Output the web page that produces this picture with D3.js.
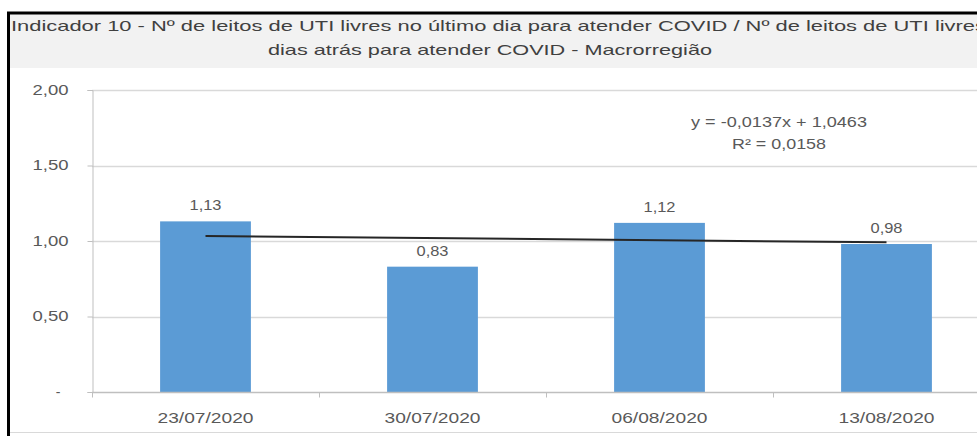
<!DOCTYPE html>
<html lang="pt">
<head>
<meta charset="UTF-8">
<title>Indicador 10</title>
<script src="https://d3js.org/d3.v7.min.js"></script>
<style>
  body { margin: 0; background: #fff; }
  text { font-family: "Liberation Sans", "DejaVu Sans", sans-serif; }
</style>
</head>
<body>
<div id="chart"></div>
<script>

// data
var dates = ["23/07/2020", "30/07/2020", "06/08/2020", "13/08/2020"];
var values = [1.13, 0.83, 1.12, 0.98];
var yTicks = [0, 0.5, 1.0, 1.5, 2.0];
var yTickLabels = ["-", "0,50", "1,00", "1,50", "2,00"];
var trendSlope = -0.0137;
var trendIntercept = 1.0463;
var trendLabels = ["y = -0,0137x + 1,0463", "R² = 0,0158"];
var titleLines = [
  "Indicador 10 - Nº de leitos de UTI livres no último dia para atender COVID / Nº de leitos de UTI livres",
  "dias atrás para atender COVID - Macrorregião"
];

var W = 977, H = 436;
var margin = {top: 90, left: 92, bottom: 44};

var svg = d3.select("#chart")
  .append("svg")
    .attr("width", W)
    .attr("height", H);

// frame: black border top/left, grey title band
svg.append("rect")
  .attr("x", 10).attr("y", 14)
  .attr("width", W - 10).attr("height", 54)
  .style("fill", "#f2f2f2");
svg.append("line")
  .attr("x1", 7).attr("x2", W).attr("y1", 13).attr("y2", 13)
  .style("stroke", "#000").style("stroke-width", 3);
svg.append("line")
  .attr("x1", 8.5).attr("x2", 8.5).attr("y1", 12).attr("y2", H)
  .style("stroke", "#000").style("stroke-width", 3);
svg.append("line")
  .attr("x1", 10).attr("x2", W).attr("y1", 432.5).attr("y2", 432.5)
  .style("stroke", "#d9d9d9").style("stroke-width", 1);

// title
svg.append("text")
  .attr("x", 11).attr("y", 31)
  .attr("textLength", 975)
  .attr("lengthAdjust", "spacingAndGlyphs")
  .style("font-size", "15px")
  .style("fill", "#404040")
  .text(titleLines[0]);
svg.append("text")
  .attr("x", 268).attr("y", 55)
  .attr("textLength", 444)
  .attr("lengthAdjust", "spacingAndGlyphs")
  .style("font-size", "15px")
  .style("fill", "#404040")
  .text(titleLines[1]);

// scales
var x = d3.scaleBand()
  .domain(dates)
  .range([margin.left, 1000])
  .paddingInner(0.6)
  .paddingOuter(0.3);

var y = d3.scaleLinear()
  .domain([0, 2])
  .range([392, margin.top]);

// gridlines
svg.append("g")
  .selectAll("line")
  .data(yTicks.filter(function(d) { return d > 0; }))
  .enter()
  .append("line")
    .attr("x1", margin.left).attr("x2", W)
    .attr("y1", function(d) { return Math.round(y(d)) + 0.5; })
    .attr("y2", function(d) { return Math.round(y(d)) + 0.5; })
    .style("stroke", "#d9d9d9")
    .style("stroke-width", 1.5);

// y axis
var yAxis = svg.append("g")
  .attr("transform", "translate(" + (margin.left + 0.5) + ",0)")
  .call(d3.axisLeft(y)
    .tickValues(yTicks)
    .tickSize(5)
    .tickPadding(19)
    .tickFormat(function(d, i) { return yTickLabels[i]; }));
yAxis.select(".domain").style("stroke", "#bfbfbf");
yAxis.selectAll(".tick line").style("stroke", "#bfbfbf");
yAxis.selectAll(".tick text")
  .style("font-size", "14px")
  .style("fill", "#595959")
  .style("font-family", "Liberation Sans, sans-serif")
  .filter(function(d) { return d > 0; })
  .attr("textLength", 36)
  .attr("lengthAdjust", "spacingAndGlyphs");
yAxis.selectAll(".tick text")
  .filter(function(d) { return d === 0; })
  .attr("x", -32);

// bars
svg.append("g")
  .selectAll("rect")
  .data(values)
  .enter()
  .append("rect")
    .attr("x", function(d, i) { return x(dates[i]); })
    .attr("y", function(d) { return y(d); })
    .attr("width", x.bandwidth())
    .attr("height", function(d) { return y(0) - y(d); })
    .style("fill", "#5b9bd5");

// x axis
var step = x.step();
var xAxisG = svg.append("g")
  .attr("transform", "translate(0," + (y(0) + 0.5) + ")");
xAxisG.append("line")
  .attr("x1", margin.left).attr("x2", W)
  .style("stroke", "#bfbfbf").style("stroke-width", 1.5);
xAxisG.selectAll(".xtick")
  .data(dates.slice(1))
  .enter()
  .append("line")
    .attr("class", "xtick")
    .attr("x1", function(d) { return Math.round(x(d) + x.bandwidth() / 2 - step / 2) + 0.5; })
    .attr("x2", function(d) { return Math.round(x(d) + x.bandwidth() / 2 - step / 2) + 0.5; })
    .attr("y1", 0).attr("y2", 5)
    .style("stroke", "#bfbfbf");
xAxisG.append("line")
  .attr("x1", margin.left + 0.5).attr("x2", margin.left + 0.5)
  .attr("y1", 0).attr("y2", 5)
  .style("stroke", "#bfbfbf");
xAxisG.selectAll(".xlabel")
  .data(dates)
  .enter()
  .append("text")
    .attr("class", "xlabel")
    .attr("x", function(d) { return x(d) + x.bandwidth() / 2; })
    .attr("y", 30)
    .attr("textLength", 96)
    .attr("lengthAdjust", "spacingAndGlyphs")
    .style("text-anchor", "middle")
    .style("font-size", "15px")
    .style("fill", "#595959")
    .text(function(d) { return d; });

// value labels
svg.append("g")
  .selectAll("text")
  .data(values)
  .enter()
  .append("text")
    .attr("x", function(d, i) { return x(dates[i]) + x.bandwidth() / 2; })
    .attr("y", function(d) { return y(d) - 11; })
    .attr("textLength", 32)
    .attr("lengthAdjust", "spacingAndGlyphs")
    .style("text-anchor", "middle")
    .style("font-size", "14px")
    .style("fill", "#595959")
    .text(function(d) { return d.toFixed(2).replace(".", ","); });

// linear trendline (x = 1..n)
var trend = dates.map(function(d, i) {
  return [x(d) + x.bandwidth() / 2, trendSlope * (i + 1) + trendIntercept];
});
svg.append("path")
  .datum([trend[0], trend[trend.length - 1]])
  .attr("d", d3.line()
    .x(function(d) { return d[0]; })
    .y(function(d) { return y(d[1]); }))
  .style("fill", "none")
  .style("stroke", "#262626")
  .style("stroke-width", 2);

// trendline equation
var trendWidths = [176, 94];
svg.append("g")
  .selectAll("text")
  .data(trendLabels)
  .enter()
  .append("text")
    .attr("x", 779)
    .attr("y", function(d, i) { return 127 + i * 22; })
    .attr("textLength", function(d, i) { return trendWidths[i]; })
    .attr("lengthAdjust", "spacingAndGlyphs")
    .style("text-anchor", "middle")
    .style("font-size", "14px")
    .style("fill", "#595959")
    .text(function(d) { return d; });

</script>
</body>
</html>
